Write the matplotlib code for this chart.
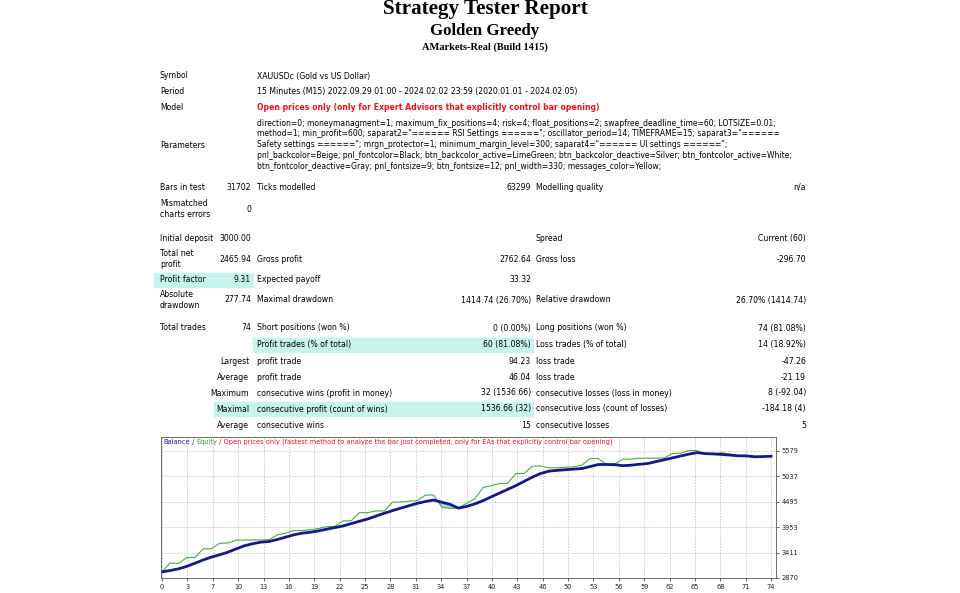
import numpy as np
import matplotlib
matplotlib.use("Agg")
import matplotlib.pyplot as plt

# ---- data ----
trades = list(range(75))
balance = [3000, 3030, 3065, 3117, 3185, 3255, 3315, 3365, 3420, 3490,
           3556, 3600, 3634, 3648, 3690, 3740, 3790, 3825, 3845, 3874,
           3910, 3945, 3980, 4030, 4080, 4129, 4190, 4250, 4306, 4360,
           4410, 4461, 4500, 4532, 4485, 4440, 4360, 4395, 4450, 4518,
           4600, 4680, 4760, 4840, 4930, 5020, 5098, 5148, 5165, 5178,
           5190, 5204, 5245, 5289, 5290, 5285, 5265, 5275, 5295, 5310,
           5350, 5390, 5430, 5470, 5510, 5543, 5522, 5515, 5505, 5490,
           5475, 5473, 5455, 5458, 5466]
equity = [3000, 3190, 3180, 3305, 3310, 3490, 3495, 3610, 3615, 3676,
          3680, 3680, 3682, 3685, 3790, 3825, 3880, 3882, 3900, 3924,
          3966, 3970, 4087, 4090, 4263, 4265, 4299, 4300, 4483, 4490,
          4511, 4515, 4638, 4640, 4377, 4355, 4365, 4461, 4560, 4800,
          4836, 4886, 4890, 5098, 5100, 5254, 5258, 5218, 5220, 5230,
          5239, 5275, 5416, 5418, 5296, 5300, 5402, 5405, 5423, 5425,
          5425, 5428, 5522, 5530, 5586, 5588, 5501, 5505, 5543, 5510,
          5475, 5473, 5455, 5458, 5466]
x_labels = ["0", "3", "7", "10", "13", "16", "19", "22", "25", "28", "31", "34", "37",
            "40", "43", "46", "50", "53", "56", "59", "62", "65", "68", "71", "74"]
y_ticks = [2870, 3411, 3953, 4495, 5037, 5579]

params = [
    "direction=0; moneymanagment=1; maximum_fix_positions=4; risk=4; float_positions=2; swapfree_deadline_time=60; LOTSIZE=0.01;",
    'method=1; min_profit=600; saparat2="====== RSI Settings ======"; oscillator_period=14; TIMEFRAME=15; saparat3="======',
    'Safety settings ======"; mrgn_protector=1; minimum_margin_level=300; saparat4="====== UI settings ======";',
    "pnl_backcolor=Beige; pnl_fontcolor=Black; btn_backcolor_active=LimeGreen; btn_backcolor_deactive=Silver; btn_fontcolor_active=White;",
    "btn_fontcolor_deactive=Gray; pnl_fontsize=9; btn_fontsize=12; pnl_width=330; messages_color=Yellow;",
]

W, H = 960, 593
fig = plt.figure(figsize=(9.6, 5.93), dpi=100)
FS = 5.6


def T(x, y, s, ha="left", size=FS, **kw):
    return fig.text(x / W, 1 - y / H, s, ha=ha, va="center", fontsize=size,
                    family="DejaVu Sans", **kw)


def box(x0, y0, x1, y1, color="#c6f5ee"):
    fig.patches.append(plt.Rectangle((x0 / W, 1 - y1 / H), (x1 - x0) / W, (y1 - y0) / H,
                                     transform=fig.transFigure, color=color, zorder=0))


# titles
fig.text(485 / W, 1 - 9 / H, "Strategy Tester Report", ha="center", va="center",
         fontsize=15.2, family="Liberation Serif", weight="bold")
fig.text(485 / W, 1 - 31 / H, "Golden Greedy", ha="center", va="center",
         fontsize=12.1, family="Liberation Serif", weight="bold")
fig.text(485 / W, 1 - 47 / H, "AMarkets-Real (Build 1415)", ha="center", va="center",
         fontsize=7.5, family="Liberation Serif", weight="bold")

# highlighted cells
box(154, 273, 253, 287)
box(253, 338, 533, 352)
box(214, 402, 533, 416)

T(160, 76, "Symbol")
T(257, 76, "XAUUSDc (Gold vs US Dollar)")
T(160, 92, "Period")
T(257, 92, "15 Minutes (M15) 2022.09.29 01:00 - 2024.02.02 23:59 (2020.01.01 - 2024.02.05)")
T(160, 108, "Model")
T(257, 108, "Open prices only (only for Expert Advisors that explicitly control bar opening)",
  color="#e8141e", weight="bold")
T(160, 145, "Parameters")
for i, line in enumerate(params):
    T(257, 123 + i * 10.8, line, size=5.5)

C1, C2, C3, C4 = 251, 531, 536, 806
rows = [
    (187, "Bars in test", "31702", "Ticks modelled", "63299", "Modelling quality", "n/a"),
    (209, "Mismatched\ncharts errors", "0", "", "", "", ""),
    (238, "Initial deposit", "3000.00", "", "", "Spread", "Current (60)"),
    (259, "Total net\nprofit", "2465.94", "Gross profit", "2762.64", "Gross loss", "-296.70"),
    (280, "Profit factor", "9.31", "Expected payoff", "33.32", "", ""),
    (300, "Absolute\ndrawdown", "277.74", "Maximal drawdown", "1414.74 (26.70%)",
     "Relative drawdown", "26.70% (1414.74)"),
    (328, "Total trades", "74", "Short positions (won %)", "0 (0.00%)",
     "Long positions (won %)", "74 (81.08%)"),
    (345, "", "", "Profit trades (% of total)", "60 (81.08%)",
     "Loss trades (% of total)", "14 (18.92%)"),
]
for y, l1, v1, l2, v2, l3, v3 in rows:
    T(160, y, l1, linespacing=1.2)
    T(C1, y, v1, ha="right")
    T(257, y, l2)
    T(C2, y, v2, ha="right")
    T(C3, y, l3)
    T(C4, y, v3, ha="right")

rows2 = [
    (361, "Largest", "profit trade", "94.23", "loss trade", "-47.26"),
    (377, "Average", "profit trade", "46.04", "loss trade", "-21.19"),
    (393, "Maximum", "consecutive wins (profit in money)", "32 (1536.66)",
     "consecutive losses (loss in money)", "8 (-92.04)"),
    (409, "Maximal", "consecutive profit (count of wins)", "1536.66 (32)",
     "consecutive loss (count of losses)", "-184.18 (4)"),
    (425, "Average", "consecutive wins", "15", "consecutive losses", "5"),
]
for y, l1, l2, v2, l3, v3 in rows2:
    T(C1 - 2, y, l1, ha="right")
    T(257, y, l2)
    T(C2, y, v2, ha="right")
    T(C3, y, l3)
    T(C4, y, v3, ha="right")

# ---- balance / equity chart ----
ax = fig.add_axes([161 / W, 1 - 578 / H, 615 / W, 141 / H])
bal = np.array(balance)
eq = np.array(equity)
ax.fill_between(trades, eq, bal, where=eq < bal, color="#a8d8e8", interpolate=True, lw=0)
ax.plot(trades, equity, color="#46ad46", lw=0.8)
ax.plot(trades, balance, color="#14188a", lw=2.0)
ax.set_xlim(-0.12, 74.6)
ax.set_ylim(2870, 5876)
xt = [k * 74 / 24 for k in range(25)]
ax.set_xticks(xt)
ax.set_xticklabels(x_labels)
ax.set_yticks(y_ticks)
ax.yaxis.tick_right()
ax.tick_params(labelsize=4.8, length=2, width=0.5, pad=2, colors="#222222")
ax.grid(True, color="#b8b8b8", ls=(0, (2, 2)), lw=0.5)
for s in ax.spines.values():
    s.set_color("#555555")
    s.set_linewidth(0.6)

# caption inside the chart, in several colours
fig.canvas.draw()
r = fig.canvas.get_renderer()
xpos = 163
for piece, col in [("Balance", "#1a1aa0"), (" / ", "#333333"), ("Equity", "#2ea02e"),
                   (" / Open prices only (fastest method to analyze the bar just completed, only for EAs that explicitly control bar opening)", "#e8141e")]:
    t = fig.text(xpos / W, 1 - 442 / H, piece, ha="left", va="center", fontsize=4.8,
                 family="DejaVu Sans", color=col)
    xpos += t.get_window_extent(r).width

fig.savefig("out.png", dpi=100)
